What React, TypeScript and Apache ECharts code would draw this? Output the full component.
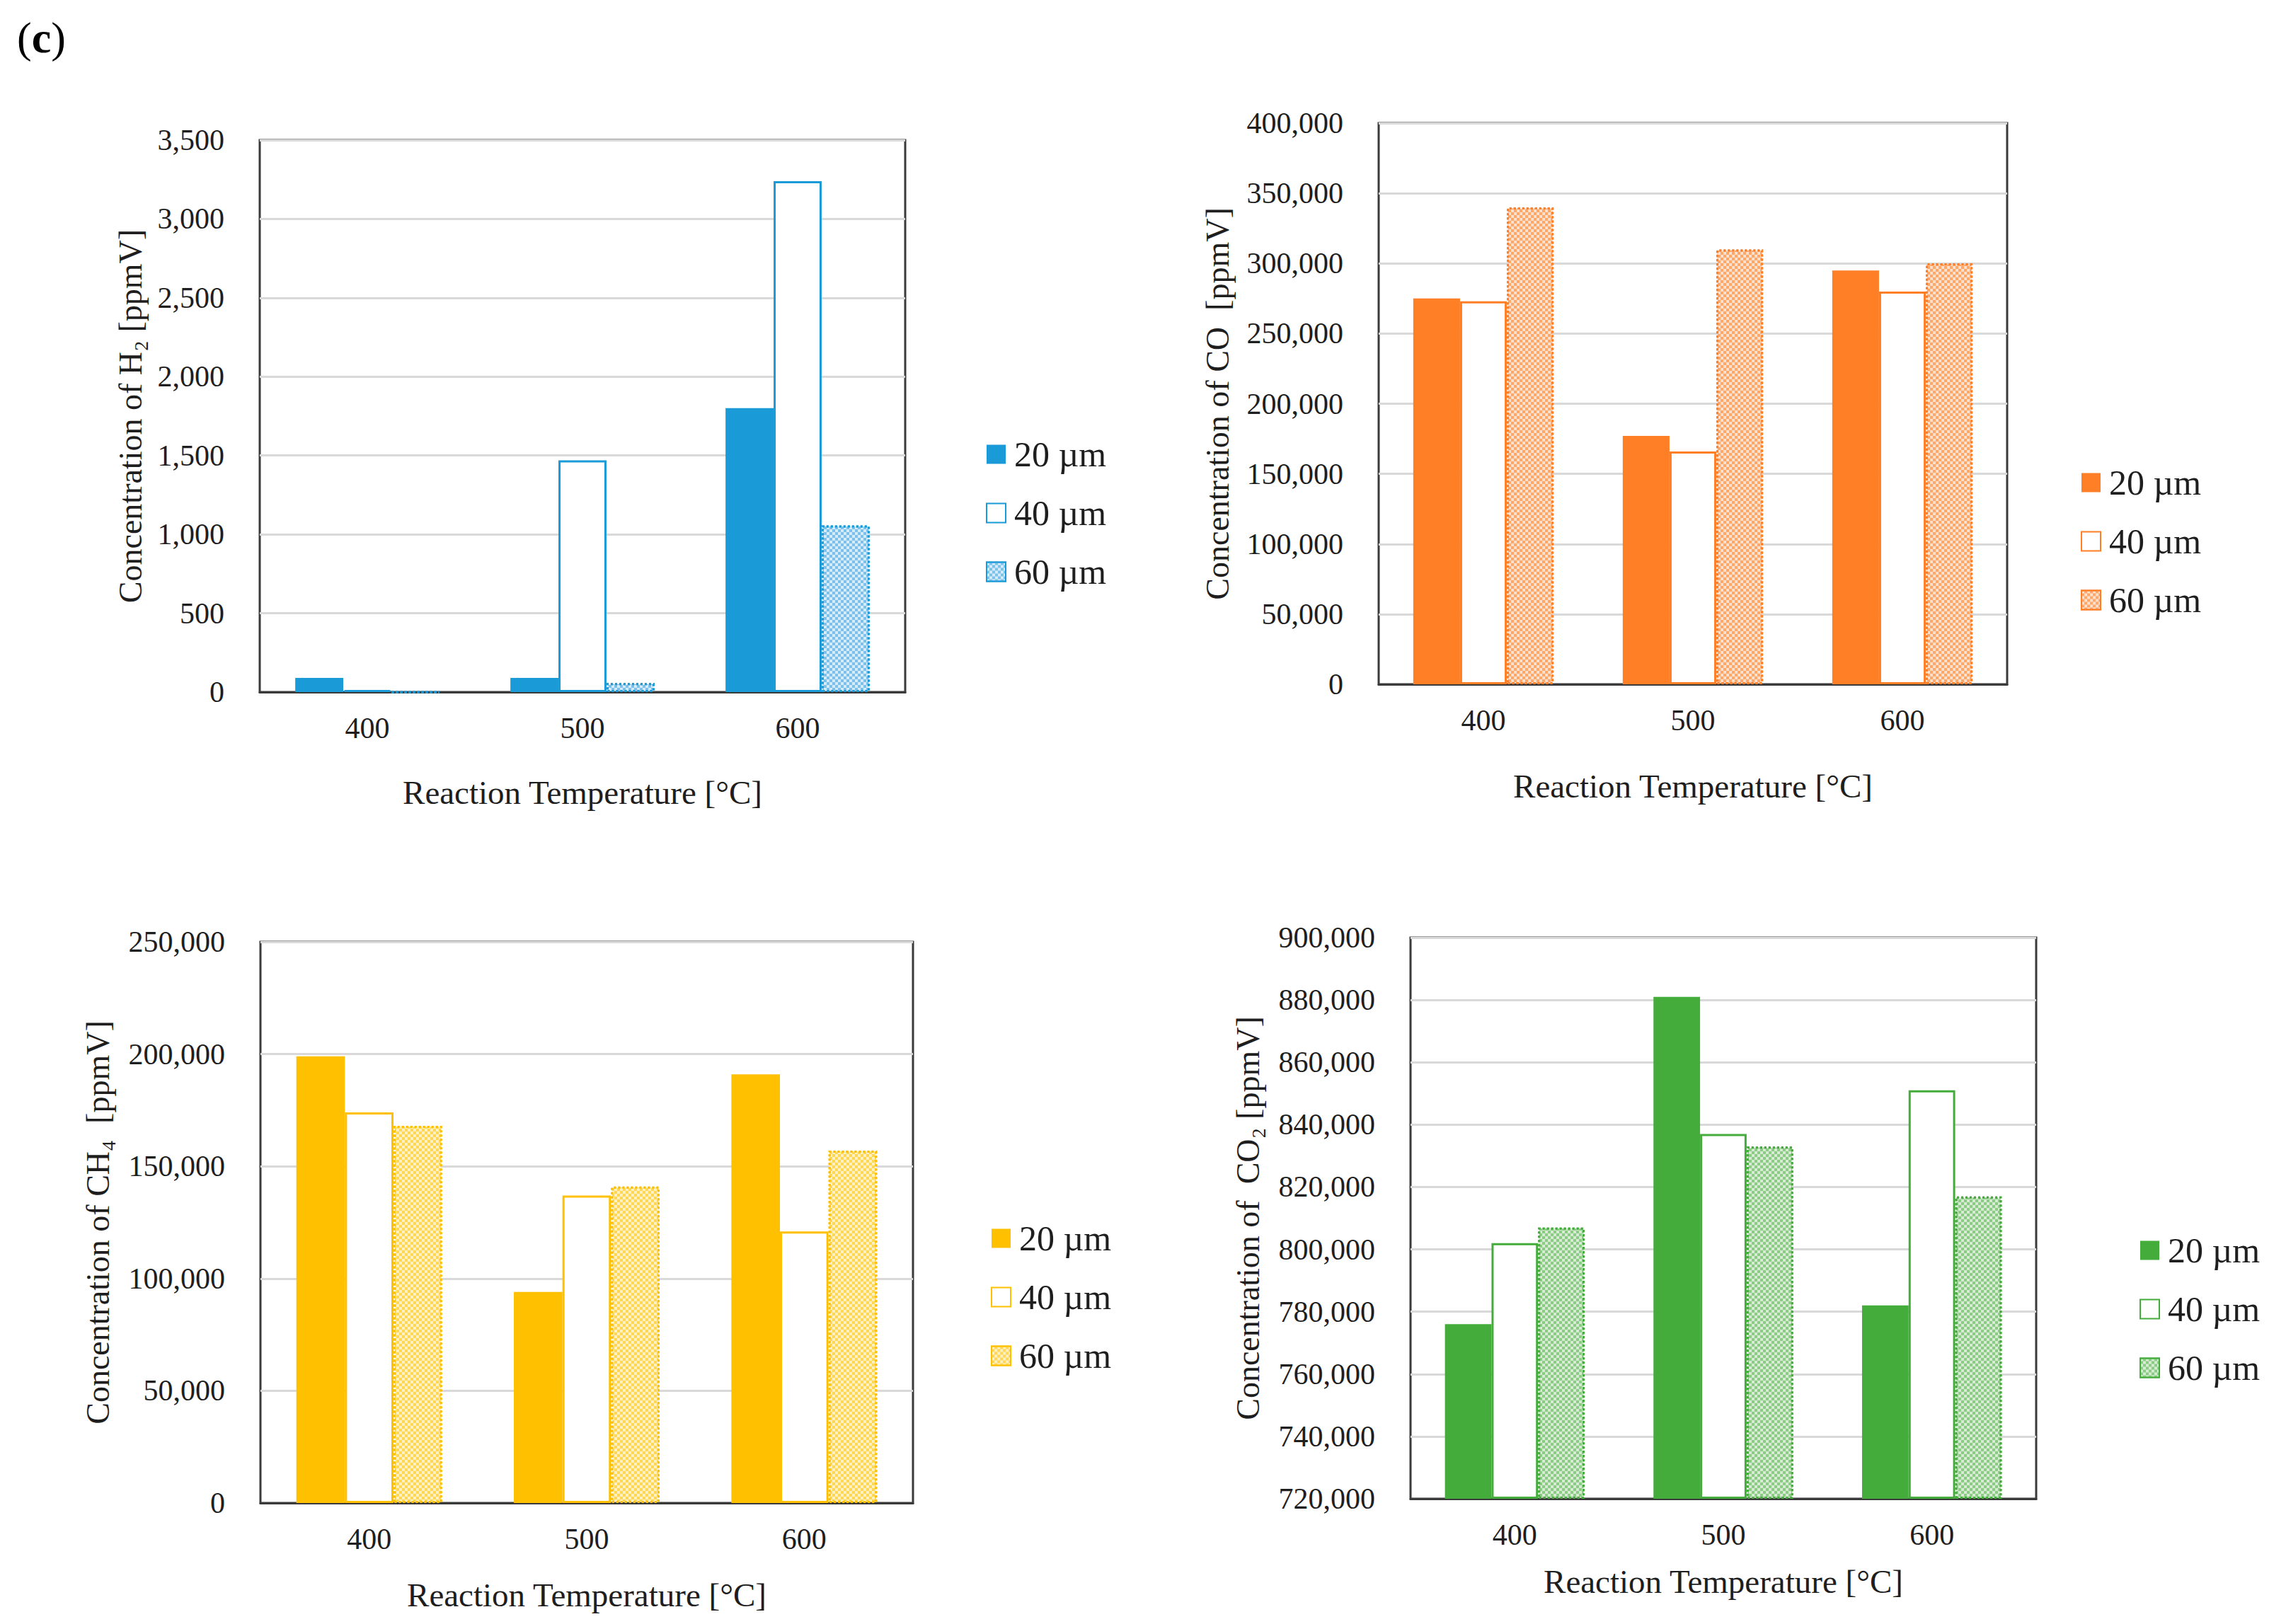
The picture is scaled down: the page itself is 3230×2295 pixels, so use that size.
import { useEffect, useRef } from 'react';
import * as echarts from 'echarts';

const temperatures = ['400', '500', '600'];
const sizeNames = ['20 µm', '40 µm', '60 µm'];

const h2Size20 = [90, 90, 1800];
const h2Size40 = [13, 1470, 3240];
const h2Size60 = [0, 57, 1057];

const coSize20 = [275000, 177000, 295000];
const coSize40 = [273000, 166000, 280000];
const coSize60 = [340000, 310000, 300000];

const ch4Size20 = [199000, 94000, 191000];
const ch4Size40 = [174000, 137000, 121000];
const ch4Size60 = [168000, 141000, 157000];

const co2Size20 = [776000, 881000, 782000];
const co2Size40 = [802000, 837000, 851000];
const co2Size60 = [807000, 833000, 817000];

const FONT = '"Liberation Serif", "Times New Roman", serif';
const TEXT = '#1e1e1e';

type Palette = { solid: string; light: string; dots: string };

type PanelConfig = {
  yName: string;
  min: number;
  max: number;
  interval: number;
  values: number[][];
  palette: Palette;
  grid: { left: number; top: number; width: number; height: number };
  legend: { left: number; top: number };
  yNameGap: number;
  xNameGap: number;
  title?: boolean;
};

const blue: Palette = { solid: '#1a9ad7', light: '#d4ebf9', dots: '#7dc1ea' };
const orange: Palette = { solid: '#ff7f27', light: '#ffe0cb', dots: '#ffa76b' };
const yellow: Palette = { solid: '#ffc000', light: '#fff0c2', dots: '#ffd757' };
const green: Palette = { solid: '#43ac3a', light: '#d5ecd2', dots: '#8ccb85' };

function buildOption(cfg: PanelConfig) {
  const { palette } = cfg;
  const styles = [
    { color: palette.solid, borderColor: palette.solid, borderWidth: 0 },
    { color: '#ffffff', borderColor: palette.solid, borderWidth: 3 },
    {
      color: palette.light,
      borderColor: palette.solid,
      borderWidth: 3,
      borderType: 'dotted',
      decal: {
        symbol: 'rect',
        symbolSize: 1,
        dashArrayX: [
          [4, 4],
          [0, 4, 4, 0],
        ],
        dashArrayY: [4, 0],
        color: palette.dots,
      },
    },
  ];
  const graphic = cfg.title
    ? [
        {
          type: 'text',
          left: 24,
          top: 22,
          style: {
            text: '{p|(}{c|c}{p|)}',
            rich: {
              p: { fontFamily: FONT, fontSize: 62, fill: '#000' },
              c: { fontFamily: FONT, fontSize: 62, fontWeight: 'bold', fill: '#000' },
            },
          },
        },
      ]
    : [];
  return {
    animation: false,
    backgroundColor: '#ffffff',
    graphic,
    grid: {
      ...cfg.grid,
      show: true,
      borderColor: '#3a3a3a',
      borderWidth: 3,
      backgroundColor: 'transparent',
    },
    legend: {
      orient: 'vertical',
      left: cfg.legend.left,
      top: cfg.legend.top,
      itemWidth: 27,
      itemHeight: 27,
      itemGap: 33,
      icon: 'rect',
      data: sizeNames,
      textStyle: { fontFamily: FONT, fontSize: 50, color: TEXT, padding: [0, 0, 0, 7] },
    },
    xAxis: {
      type: 'category',
      data: temperatures,
      axisTick: { show: false },
      axisLine: { lineStyle: { color: '#3a3a3a', width: 3 } },
      axisLabel: { fontFamily: FONT, fontSize: 42, color: TEXT, margin: 30 },
      name: 'Reaction Temperature [°C]',
      nameLocation: 'middle',
      nameGap: cfg.xNameGap,
      nameTextStyle: { fontFamily: FONT, fontSize: 47, color: TEXT },
    },
    yAxis: {
      type: 'value',
      min: cfg.min,
      max: cfg.max,
      interval: cfg.interval,
      startValue: cfg.min,
      axisLine: { show: false },
      axisTick: { show: false },
      splitLine: { lineStyle: { color: '#d9d9d9', width: 3 } },
      axisLabel: {
        fontFamily: FONT,
        fontSize: 42,
        color: TEXT,
        margin: 50,
        formatter: (v: number) => v.toLocaleString('en-US'),
      },
      name: cfg.yName,
      nameLocation: 'middle',
      nameRotate: 90,
      nameGap: cfg.yNameGap,
      nameTextStyle: { fontFamily: FONT, fontSize: 46, color: TEXT },
    },
    series: sizeNames.map((name, i) => ({
      name,
      type: 'bar',
      data: cfg.values[i],
      barGap: '0%',
      barCategoryGap: '33%',
      clip: true,
      itemStyle: styles[i],
    })),
  };
}

const panels: { pos: { left: number; top: number }; cfg: PanelConfig }[] = [
  {
    pos: { left: 0, top: 0 },
    cfg: {
      yName: 'Concentration of H₂ [ppmV]',
      min: 0,
      max: 3500,
      interval: 500,
      values: [h2Size20, h2Size40, h2Size60],
      palette: blue,
      grid: { left: 367, top: 198, width: 912, height: 804 },
      legend: { left: 1388, top: 612 },
      yNameGap: 160,
      xNameGap: 118,
      title: true,
    },
  },
  {
    pos: { left: 1615, top: 0 },
    cfg: {
      yName: 'Concentration of CO  [ppmV]',
      min: 0,
      max: 400000,
      interval: 50000,
      values: [coSize20, coSize40, coSize60],
      palette: orange,
      grid: { left: 333, top: 174, width: 888, height: 793 },
      legend: { left: 1320, top: 652 },
      yNameGap: 205,
      xNameGap: 120,
    },
  },
  {
    pos: { left: 0, top: 1147 },
    cfg: {
      yName: 'Concentration of CH₄  [ppmV]',
      min: 0,
      max: 250000,
      interval: 50000,
      values: [ch4Size20, ch4Size40, ch4Size60],
      palette: yellow,
      grid: { left: 368, top: 184, width: 922, height: 793 },
      legend: { left: 1395, top: 573 },
      yNameGap: 207,
      xNameGap: 106,
    },
  },
  {
    pos: { left: 1615, top: 1147 },
    cfg: {
      yName: 'Concentration of  CO₂ [ppmV]',
      min: 720000,
      max: 900000,
      interval: 20000,
      values: [co2Size20, co2Size40, co2Size60],
      palette: green,
      grid: { left: 378, top: 178, width: 884, height: 793 },
      legend: { left: 1403, top: 590 },
      yNameGap: 207,
      xNameGap: 93,
    },
  },
];

function Panel({ cfg, pos }: { cfg: PanelConfig; pos: { left: number; top: number } }) {
  const ref = useRef<HTMLDivElement | null>(null);

  useEffect(() => {
    if (!ref.current) {
      return;
    }
    const chart = echarts.init(ref.current, undefined, { renderer: 'svg' });
    chart.setOption(buildOption(cfg) as echarts.EChartsOption);
    return () => chart.dispose();
  }, [cfg]);

  return (
    <div
      ref={ref}
      style={{ position: 'absolute', left: pos.left, top: pos.top, width: 1615, height: 1148 }}
    />
  );
}

export default function App() {
  useEffect(() => {
    document.body.style.margin = '0';
  }, []);

  return (
    <div style={{ position: 'relative', width: 3230, height: 2295, background: '#ffffff', overflow: 'hidden' }}>
      {panels.map((p, i) => (
        <Panel key={i} cfg={p.cfg} pos={p.pos} />
      ))}
    </div>
  );
}
